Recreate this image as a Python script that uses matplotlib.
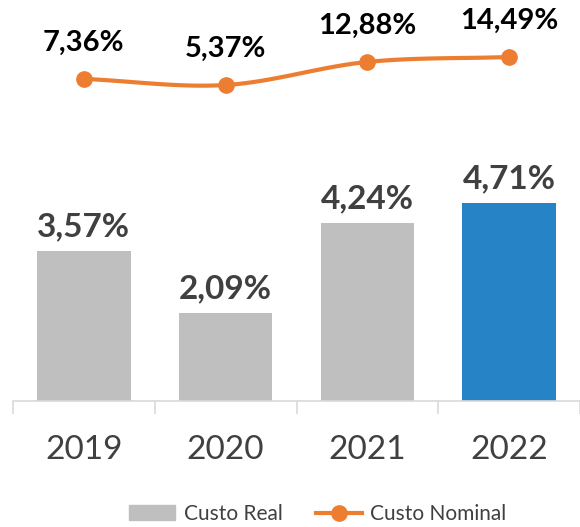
import numpy as np
import matplotlib.pyplot as plt
from matplotlib.lines import Line2D
from matplotlib.patches import Patch

years = ["2019", "2020", "2021", "2022"]
custo_real = [3.57, 2.09, 4.24, 4.71]
custo_nominal = [7.36, 5.37, 12.88, 14.49]
bar_colors = ["#bfbfbf", "#bfbfbf", "#bfbfbf", "#2683c6"]

plt.rcParams['font.family'] = ['Lato', 'DejaVu Sans']


def fmt(v):
    return f"{v:.2f}".replace(".", ",") + "%"


def smooth(xs, ys, n=30):
    # Catmull-Rom style smoothing, like Excel's smoothed line
    xs = np.asarray(xs, float)
    ys = np.asarray(ys, float)
    px = np.concatenate([[2*xs[0]-xs[1]], xs, [2*xs[-1]-xs[-2]]])
    py = np.concatenate([[2*ys[0]-ys[1]], ys, [2*ys[-1]-ys[-2]]])
    outx, outy = [], []
    for i in range(1, len(px)-2):
        t = np.linspace(0, 1, n)
        for p, out in ((px, outx), (py, outy)):
            p0, p1, p2, p3 = p[i-1], p[i], p[i+1], p[i+2]
            out.extend(0.5*((2*p1) + (-p0+p2)*t + (2*p0-5*p1+4*p2-p3)*t**2
                            + (-p0+3*p1-3*p2+p3)*t**3))
    return np.array(outx), np.array(outy)


fig = plt.figure(figsize=(5.8, 5.27), dpi=100)
ax = fig.add_axes([13/580, 126/527, 567/580, 401/527])
x = np.arange(len(years))

ax.bar(x, custo_real, width=0.66, color=bar_colors)
for xi, v in zip(x, custo_real):
    ax.annotate(fmt(v), (xi, v), xytext=(0, 7), textcoords="offset points",
                ha="center", va="bottom", fontsize=24, fontweight="bold", color="#404040")

ax.set_xlim(-0.5, 3.5)
ax.set_ylim(0, 401/42)
ax.set_yticks([])
for s in ["top", "right", "left"]:
    ax.spines[s].set_visible(False)
ax.spines["bottom"].set_color("#d9d9d9")
ax.spines["bottom"].set_linewidth(1.2)
ax.set_xticks(np.arange(-0.5, 4, 1))
ax.set_xticklabels([])
ax.tick_params(axis="x", length=9, width=1.2, color="#d9d9d9")
for xi, yr in zip(x, years):
    ax.text(xi, -0.122, yr, transform=ax.get_xaxis_transform(), ha="center", va="center",
            fontsize=24, color="#404040")

ax2 = ax.twinx()
ax2.set_ylim(5.37 - 316/3.07, 5.37 + 85/3.07)
ax2.axis("off")
sx, sy = smooth(x, custo_nominal)
ax2.plot(sx, sy, color="#ed7d31", lw=3, solid_capstyle="round")
ax2.plot(x, custo_nominal, "o", color="#ed7d31", ms=11)
for xi, v in zip(x, custo_nominal):
    ax2.annotate(fmt(v), (xi, v), xytext=(0, 26), textcoords="offset points",
                 ha="center", va="center", fontsize=21, fontweight="bold", color="black")

handles = [Patch(color="#bfbfbf"),
           Line2D([], [], color="#ed7d31", lw=3, marker="o", ms=11)]
fig.legend(handles, ["Custo Real", "Custo Nominal"], loc="center",
           bbox_to_anchor=(0.548, 1 - 514/527), ncol=2, frameon=False,
           fontsize=15, labelcolor="#404040", handlelength=2.2, columnspacing=1.6,
           handletextpad=0.4)

fig.savefig("out.png", dpi=100)
